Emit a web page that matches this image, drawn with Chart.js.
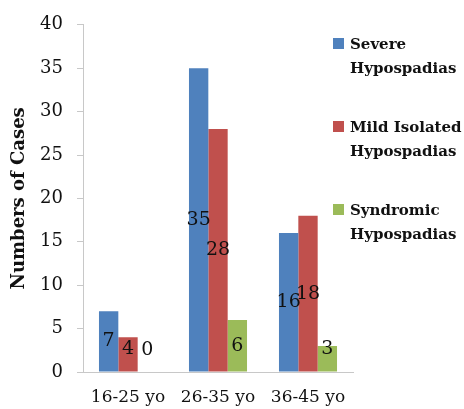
<!DOCTYPE html>
<html>
<head>
<meta charset="utf-8">
<script src="https://cdn.jsdelivr.net/npm/chart.js@4.4.1/dist/chart.umd.min.js"></script>
<style>
  html, body { margin: 0; padding: 0; background: #fff; }
  #wrap { position: relative; width: 464px; height: 409px; }
  #legend { position: absolute; left: 333px; top: 32px; font-family: "DejaVu Serif", serif; font-weight: bold; font-size: 15px; color: #111; }
  .item { position: relative; padding-left: 17px; line-height: 24px; margin-bottom: 35px; }
  .item span { position: absolute; left: 0; top: 6px; width: 11px; height: 11px; }
</style>
</head>
<body>
<div id="wrap">
  <canvas id="chart" width="464" height="409"></canvas>
  <div id="legend"></div>
</div>
<script>
const categories = ['16-25 yo', '26-35 yo', '36-45 yo'];
const severe = [7, 35, 16];
const mild = [4, 28, 18];
const syndromic = [0, 6, 3];
const seriesNames = [['Severe', 'Hypospadias'], ['Mild Isolated', 'Hypospadias'], ['Syndromic', 'Hypospadias']];
const colors = ['#4F81BD', '#C0504D', '#9BBB59'];
const yTicks = [0, 5, 10, 15, 20, 25, 30, 35, 40];

const serif = "'DejaVu Serif', serif";

// value labels in the middle of each bar (kept off the axis for short bars)
const valueLabels = {
    id: 'valueLabels',
    afterDatasetsDraw(chart) {
        const ctx = chart.ctx;
        ctx.save();
        ctx.font = '19px ' + serif;
        ctx.fillStyle = '#111';
        ctx.textAlign = 'center';
        ctx.textBaseline = 'middle';
        chart.data.datasets.forEach((ds, i) => {
            chart.getDatasetMeta(i).data.forEach((bar, j) => {
                const y = Math.min((bar.y + bar.base) / 2, bar.base - 22);
                ctx.fillText(String(ds.data[j]), bar.x, y);
            });
        });
        ctx.restore();
    }
};

const ctx = document.getElementById('chart').getContext('2d');
new Chart(ctx, {
    type: 'bar',
    data: {
        labels: categories,
        datasets: [severe, mild, syndromic].map((d, i) => ({
            label: seriesNames[i].join(' '),
            data: d,
            backgroundColor: colors[i],
            borderWidth: 0,
            barPercentage: 1,
            categoryPercentage: 0.645
        }))
    },
    options: {
        responsive: false,
        animation: false,
        layout: { padding: { left: 0, right: 111, top: 19, bottom: 0 } },
        plugins: {
            legend: { display: false },
            tooltip: { enabled: false }
        },
        scales: {
            y: {
                min: 0,
                max: 40,
                afterBuildTicks: s => { s.ticks = yTicks.map(v => ({ value: v })); },
                afterFit: s => { s.width = 83; },
                ticks: { color: '#111', padding: 14, font: { family: serif, size: 18 } },
                grid: { drawOnChartArea: false, drawTicks: true, tickLength: 6, color: '#c8c8c8' },
                border: { display: true, color: '#c8c8c8' },
                title: {
                    display: true,
                    text: 'Numbers of Cases',
                    color: '#111',
                    padding: { top: 9, bottom: 0 },
                    font: { family: serif, size: 18, weight: 'bold' }
                }
            },
            x: {
                afterFit: s => { s.height = 37; },
                ticks: { color: '#111', padding: 7, font: { family: serif, size: 17 } },
                grid: { display: false },
                border: { display: true, color: '#c8c8c8' }
            }
        }
    },
    plugins: [valueLabels]
});

// legend as text beside the plot
const legend = document.getElementById('legend');
seriesNames.forEach((lines, i) => {
    const item = document.createElement('div');
    item.className = 'item';
    const sw = document.createElement('span');
    sw.style.background = colors[i];
    item.appendChild(sw);
    item.appendChild(document.createTextNode(lines[0]));
    item.appendChild(document.createElement('br'));
    item.appendChild(document.createTextNode(lines[1]));
    legend.appendChild(item);
});
</script>
</body>
</html>
